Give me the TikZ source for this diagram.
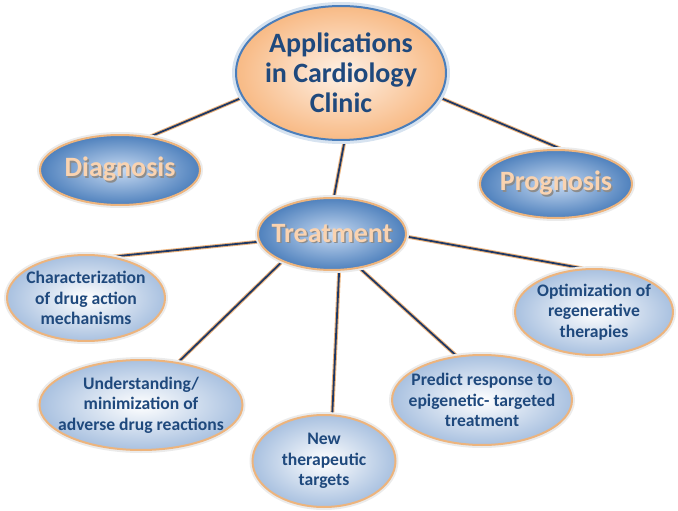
\documentclass[tikz,border=0pt]{standalone}
\usepackage{fontspec}
\setmainfont{Carlito}
\usetikzlibrary{shapes.geometric,backgrounds}
\definecolor{navy}{HTML}{1F3864}
\definecolor{tan}{HTML}{EDB47D}
\definecolor{dtext}{HTML}{1F497D}
\definecolor{peach}{HTML}{FAD3B0}
\definecolor{bluefill}{HTML}{4F81BD}
\definecolor{bluein}{HTML}{C6D9F1}
\definecolor{lightout}{HTML}{A9C1E0}
\definecolor{orout}{HTML}{F8BA85}
\definecolor{orin}{HTML}{FEF1E6}
\definecolor{bordblue}{HTML}{4A7EBB}
\newcommand\shtext[1]{\makebox[0pt][l]{\raisebox{-1.5pt}{\hspace{1.5pt}\textcolor{black!45}{#1}}}#1}
\tikzset{
  base/.style={ellipse, line width=2pt, align=center, inner xsep=-20pt, inner ysep=-20pt},
  topnode/.style={base, draw=bordblue, inner color=orin, outer color=orout,
     preaction={draw=bordblue!22, line width=8pt},
     text=dtext, font=\bfseries\fontsize{28}{30}\selectfont},
  midnode/.style={base, draw=tan, inner color=bluein, outer color=bluefill,
     preaction={draw=black!8, line width=6pt},
     text=peach, font=\bfseries\fontsize{28}{30}\selectfont},
  leafnode/.style={base, draw=tan, inner color=white, outer color=lightout,
     preaction={draw=black!8, line width=6pt},
     text=dtext, font=\bfseries\fontsize{17.6}{20.5}\selectfont},
  conn/.style={draw=tan, double=navy, double distance=1.8pt, line width=1pt},
}
\begin{document}
\begin{tikzpicture}[x=1pt,y=-1pt]
\useasboundingbox (0,0) rectangle (678,511);
\node[topnode, minimum width=210pt, minimum height=134pt] (top) at (341,73) {Applications\\in Cardiology\\Clinic};
\node[midnode, minimum width=160pt, minimum height=70pt] (diag) at (120,170) {\shtext{Diagnosis}};
\node[midnode, minimum width=152pt, minimum height=68pt] (prog) at (556,184) {\shtext{Prognosis}};
\node[midnode, minimum width=148pt, minimum height=72pt] (treat) at (332,234) {\shtext{Treatment}};
\node[leafnode, minimum width=158pt, minimum height=86pt] (char) at (86,298) {Characterization\\of drug action\\mechanisms};
\node[leafnode, minimum width=158pt, minimum height=86pt] (opt) at (594,312) {Optimization of\\regenerative\\therapies};
\node[leafnode, minimum width=203pt, minimum height=90pt] (und) at (141,405) {Understanding/\\minimization of\\adverse drug reactions};
\node[leafnode, minimum width=143pt, minimum height=92pt] (new) at (324,461) {New\\therapeutic\\targets};
\node[leafnode, minimum width=180pt, minimum height=90pt] (pred) at (482,400) {Predict response to\\epigenetic- targeted\\treatment};
\begin{scope}[on background layer]
\draw[conn] (top.194) -- (diag.48);
\draw[conn] (top.346) -- (prog.81);
\draw[conn] (top.273) -- (treat.87);
\draw[conn] (treat.186) -- (char.57);
\draw[conn] (treat.209) -- (und.49);
\draw[conn] (treat.281) -- (new.80);
\draw[conn] (treat.309) -- (pred.120);
\draw[conn] (treat.358) -- (opt.104);
\end{scope}
\end{tikzpicture}
\end{document}
